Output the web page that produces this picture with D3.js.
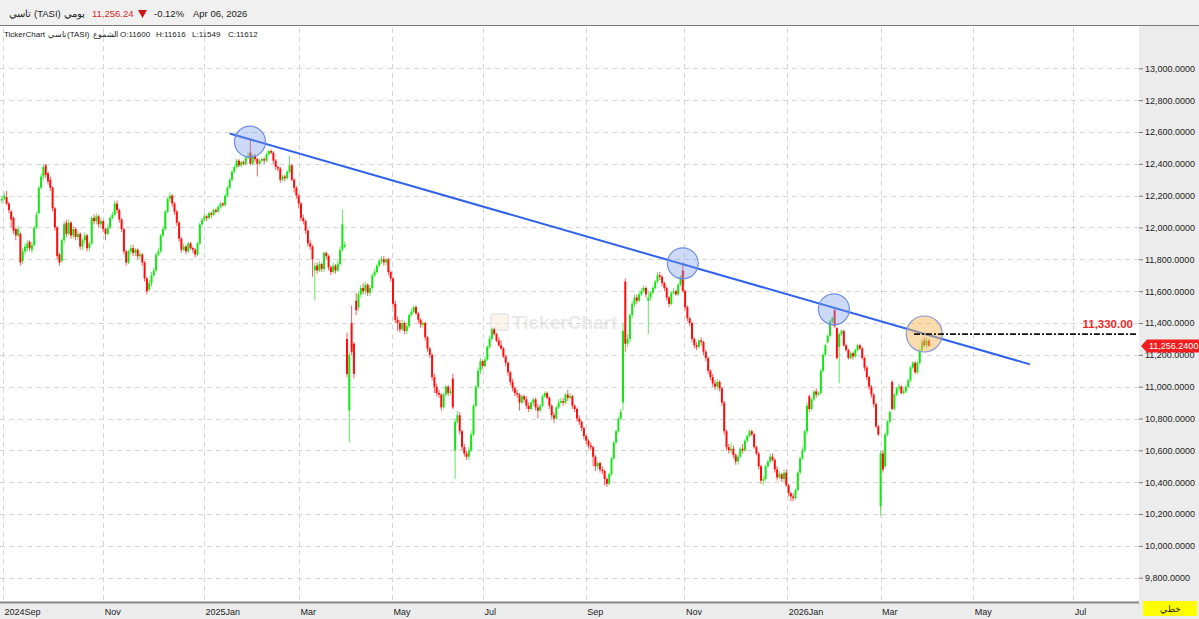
<!DOCTYPE html>
<html><head><meta charset="utf-8">
<script src="https://cdn.jsdelivr.net/npm/d3@7"></script>
<style>
body{margin:0;background:#fff;}
svg{display:block;font-family:"Liberation Sans",Arial,sans-serif;}
</style>
</head><body>
<svg id="chart" width="1199" height="619"></svg>
<script>
// ---- Daily candles, TASI (one entry per trading day) ----
const opens = [
12170,12180,12190,12150,12100,12060,11990,11950,11960,11790,
11850,11870,11910,11860,11890,12000,12090,12250,12320,12390,
12340,12300,12250,12120,12000,11830,11790,11920,12030,11960,
12030,11950,11990,11940,11960,11880,11920,11950,11870,11900,
12060,12040,12070,12020,12040,11990,11960,12000,12060,12080,
12150,12110,12050,11990,11850,11780,11850,11870,11840,11860,
11820,11830,11780,11680,11610,11650,11700,11730,11830,11850,
11950,11990,12100,12180,12200,12150,12100,12030,11930,11860,
11880,11850,11900,11870,11860,11830,11900,12020,12050,12070,
12060,12090,12080,12110,12100,12130,12150,12140,12200,12250,
12300,12350,12380,12420,12390,12410,12400,12440,12470,12400,
12450,12430,12400,12420,12430,12420,12460,12480,12470,12420,
12380,12370,12300,12320,12310,12350,12390,12300,12250,12200,
12150,12060,12040,11980,11900,11880,11730,11760,11730,11770,
11740,11840,11820,11750,11720,11760,11730,11770,11860,11880,
11300,10850,11400,11270,11540,11500,11580,11620,11600,11640,
11590,11620,11700,11720,11760,11790,11800,11780,11800,11720,
11680,11520,11420,11400,11360,11400,11350,11380,11450,11470,
11500,11460,11420,11390,11400,11310,11240,11200,11060,11000,
10960,10950,10870,10950,11000,10960,11050,10600,10780,10820,
10720,10620,10580,10560,10600,10700,10880,11000,11100,11160,
11130,11170,11250,11300,11360,11330,11290,11260,11240,11190,
11150,11090,11030,10990,10960,10950,10900,10940,10920,10880,
10860,10900,10920,10870,10850,10880,10940,10960,10930,10880,
10820,10800,10870,10900,10910,10900,10950,10930,10940,10880,
10860,10800,10780,10740,10690,10660,10630,10620,10560,10500,
10520,10480,10470,10420,10390,10450,10550,10650,10720,10800,
10900,11660,11270,11300,11450,11520,11560,11540,11580,11600,
11620,11540,11560,11590,11620,11660,11700,11690,11650,11620,
11560,11520,11590,11600,11580,11640,11730,11600,11500,11430,
11400,11300,11260,11250,11290,11280,11220,11180,11100,11060,
11020,11000,11030,10990,10900,10720,10620,10600,10610,10570,
10530,10560,10610,10600,10660,10690,10720,10700,10620,10580,
10500,10410,10420,10500,10530,10560,10540,10480,10430,10450,
10420,10460,10380,10330,10310,10300,10350,10460,10550,10600,
10720,10940,10860,10920,10970,10950,10960,11100,11200,11280,
11320,11410,11480,11370,11250,11330,11350,11260,11230,11180,
11210,11190,11230,11260,11240,11180,11120,11060,11000,10950,
10890,10750,10250,10580,10500,10700,10780,11030,10860,10950,
10990,11000,10960,10970,11000,11040,11120,11150,11090,11150,
11230,11290,11260,11290
];
const highs = [
12200,12220,12230,12160,12110,12070,12000,12010,11970,11870,
11900,11920,11920,11910,12010,12100,12260,12340,12400,12400,
12350,12320,12260,12130,12010,11840,11930,12040,12050,12050,
12040,12010,12000,11980,11970,11930,11970,11960,11910,12070,
12080,12090,12080,12060,12050,12000,12020,12070,12100,12170,
12170,12120,12060,12000,11860,11860,11890,11890,11870,11870,
11850,11840,11790,11690,11670,11720,11750,11840,11870,11960,
12010,12110,12190,12220,12210,12160,12110,12040,11940,11900,
11890,11910,11910,11880,11870,11910,12030,12060,12090,12080,
12100,12100,12120,12120,12140,12160,12160,12210,12260,12310,
12360,12390,12430,12430,12420,12420,12450,12470,12550,12460,
12460,12440,12430,12440,12440,12470,12490,12490,12480,12430,
12390,12380,12330,12330,12360,12450,12400,12310,12260,12210,
12160,12080,12050,11990,11920,11890,11780,11780,11790,11780,
11850,11850,11830,11760,11780,11770,11790,11880,12110,11910,
11340,11220,11510,11280,11590,11600,11640,11650,11660,11650,
11640,11710,11740,11770,11800,11820,11820,11810,11810,11730,
11690,11540,11440,11420,11420,11410,11400,11460,11490,11510,
11510,11470,11430,11410,11410,11320,11250,11210,11080,11020,
10980,10960,10960,11010,11010,10990,11080,10800,10850,10840,
10730,10640,10600,10620,10720,10890,11010,11120,11180,11170,
11190,11260,11320,11370,11370,11340,11310,11290,11250,11200,
11160,11100,11050,11000,10980,10960,10950,10950,10940,10900,
10910,10930,10930,10890,10890,10950,10970,10970,10940,10890,
10840,10880,10920,10930,10930,10960,10980,10960,10950,10890,
10870,10820,10790,10750,10700,10670,10650,10630,10570,10530,
10530,10500,10480,10430,10460,10560,10660,10730,10810,10860,
11400,11680,11330,11460,11540,11580,11580,11600,11620,11640,
11630,11600,11600,11630,11670,11720,11720,11700,11660,11630,
11570,11600,11620,11610,11650,11700,11780,11610,11510,11440,
11410,11310,11280,11300,11310,11290,11230,11190,11110,11080,
11040,11050,11040,11000,10910,10730,10640,10650,10630,10580,
10580,10620,10640,10670,10700,10730,10730,10710,10630,10590,
10510,10440,10510,10540,10580,10580,10550,10500,10470,10460,
10480,10480,10390,10340,10330,10360,10470,10560,10620,10730,
10900,10950,10930,10980,10990,10970,11110,11210,11270,11330,
11420,11440,11490,11370,11340,11360,11360,11270,11240,11220,
11220,11240,11270,11270,11250,11190,11130,11070,11010,10960,
10900,10760,10600,10600,10710,10790,10850,11040,10960,11000,
11020,11010,10990,11010,11050,11130,11160,11160,11160,11240,
11300,11310,11310,11300
];
const lows = [
12150,12170,12140,12090,12000,11960,11920,11940,11760,11770,
11830,11850,11850,11840,11880,11990,12080,12240,12300,12310,
12270,12230,12100,11980,11800,11760,11780,11900,11940,11950,
11930,11930,11920,11920,11860,11860,11900,11850,11850,11890,
12020,12020,12000,12000,11970,11920,11950,11990,12050,12070,
12090,12030,11970,11830,11760,11770,11830,11820,11820,11800,
11800,11760,11660,11580,11600,11630,11690,11720,11820,11840,
11940,11980,12090,12160,12130,12080,12010,11910,11840,11850,
11830,11840,11860,11840,11810,11820,11890,12010,12040,12040,
12050,12060,12070,12090,12090,12120,12130,12130,12190,12240,
12290,12340,12370,12380,12380,12390,12390,12430,12390,12390,
12410,12320,12390,12410,12400,12410,12450,12460,12400,12360,
12350,12280,12290,12290,12300,12340,12290,12220,12180,12120,
12040,12020,11960,11880,11860,11690,11545,11710,11720,11720,
11720,11800,11730,11700,11710,11710,11720,11760,11850,11870,
11060,10650,11200,11050,11450,11480,11560,11580,11580,11570,
11570,11610,11690,11710,11750,11770,11760,11760,11700,11660,
11500,11400,11350,11340,11350,11330,11330,11370,11440,11460,
11450,11400,11370,11370,11290,11220,11180,11040,10960,10940,
10930,10850,10860,10940,10940,10950,10860,10420,10770,10700,
10600,10560,10540,10540,10590,10690,10870,10990,11080,11110,
11120,11160,11240,11290,11320,11280,11250,11230,11180,11130,
11070,11010,10970,10940,10930,10850,10890,10900,10860,10840,
10850,10880,10850,10800,10840,10870,10930,10920,10860,10800,
10770,10790,10860,10890,10880,10890,10910,10920,10860,10840,
10780,10760,10720,10670,10640,10610,10600,10500,10470,10480,
10460,10450,10380,10370,10380,10440,10540,10640,10710,10790,
10850,11220,11250,11280,11430,11500,11520,11530,11570,11590,
11560,11330,11540,11580,11610,11650,11670,11630,11600,11540,
11500,11510,11580,11570,11570,11630,11590,11480,11410,11380,
11280,11240,11230,11240,11260,11200,11160,11080,11040,11000,
10980,10980,10970,10880,10700,10600,10580,10580,10550,10510,
10510,10550,10580,10590,10650,10680,10690,10610,10570,10480,
10390,10380,10410,10490,10520,10530,10460,10410,10420,10400,
10400,10370,10310,10280,10280,10290,10340,10450,10540,10590,
10700,10840,10850,10910,10930,10940,10950,11090,11190,11270,
11310,11400,11370,11170,11020,11320,11250,11220,11170,11170,
11170,11180,11220,11230,11170,11100,11040,10980,10930,10870,
10740,10690,10190,10460,10490,10690,10770,10850,10850,10940,
10970,10950,10950,10960,10990,11030,11110,11080,11080,11140,
11220,11250,11240,11250
];
const closes = [
12180,12200,12150,12110,12050,11980,11950,11990,11780,11850,
11880,11900,11870,11890,12000,12080,12250,12320,12380,12330,
12290,12250,12120,12000,11820,11780,11920,12020,11960,12030,
11950,11990,11940,11960,11880,11920,11950,11870,11900,12060,
12040,12070,12020,12040,11990,11960,12000,12060,12080,12150,
12110,12050,11990,11850,11780,11850,11870,11840,11860,11820,
11830,11780,11680,11600,11650,11700,11730,11830,11850,11950,
11990,12100,12180,12200,12150,12100,12030,11930,11860,11880,
11850,11900,11870,11860,11830,11900,12020,12050,12070,12060,
12090,12080,12110,12100,12130,12150,12140,12200,12250,12300,
12350,12380,12420,12390,12410,12400,12440,12450,12400,12450,
12430,12400,12420,12430,12420,12460,12480,12470,12420,12380,
12370,12300,12320,12310,12350,12390,12300,12250,12200,12150,
12060,12040,11980,11900,11880,11800,11760,11730,11770,11740,
11840,11820,11750,11720,11760,11730,11770,11860,12020,11890,
11080,11200,11220,11080,11480,11580,11620,11600,11640,11590,
11620,11700,11720,11760,11790,11800,11780,11800,11720,11680,
11520,11420,11400,11360,11400,11350,11380,11450,11470,11500,
11460,11420,11390,11400,11310,11240,11200,11060,11000,10960,
10950,10870,10950,11000,10960,10970,10870,10780,10820,10720,
10620,10580,10560,10600,10700,10880,11000,11100,11160,11130,
11170,11250,11300,11360,11330,11290,11260,11240,11190,11150,
11090,11030,10990,10960,10950,10900,10940,10920,10880,10860,
10900,10920,10870,10850,10880,10940,10960,10930,10880,10820,
10800,10870,10900,10910,10900,10950,10930,10940,10880,10860,
10800,10780,10740,10690,10660,10630,10620,10560,10500,10520,
10480,10470,10420,10390,10450,10550,10650,10720,10800,10840,
11350,11270,11300,11450,11520,11560,11540,11580,11600,11620,
11580,11560,11590,11620,11660,11700,11690,11650,11620,11560,
11520,11590,11600,11580,11640,11690,11600,11500,11430,11400,
11300,11260,11250,11290,11280,11220,11180,11100,11060,11020,
11000,11030,10990,10900,10720,10620,10600,10610,10570,10530,
10560,10610,10600,10660,10690,10720,10700,10620,10580,10500,
10410,10420,10500,10530,10560,10540,10480,10430,10450,10420,
10460,10380,10330,10310,10300,10350,10460,10550,10600,10720,
10880,10860,10920,10970,10950,10960,11100,11200,11260,11320,
11410,11430,11380,11180,11330,11350,11260,11230,11180,11210,
11190,11230,11260,11240,11180,11120,11060,11000,10950,10890,
10750,10700,10580,10480,10700,10780,10840,10860,10950,10990,
11000,10960,10970,11000,11040,11120,11150,11090,11150,11230,
11280,11260,11290,11256.24
];

// ---- Axis data ----
const monthLabels = ["2024Sep","Nov","2025Jan","Mar","May","Jul","Sep","Nov","2026Jan","Mar","May","Jul"];
const monthStartIndex = [0.4, 44, 87.8, 129.1, 169.6, 209.1, 253.8, 296.7, 341.4, 382, 422.3, 465.8];
const priceTicks = [9800,10000,10200,10400,10600,10800,11000,11200,11400,11600,11800,12000,12200,12400,12600,12800,13000];

// ---- Header values ----
const lastCandleInfo = ["O:11600","H:11616","L:11549","C:11612"];

// ---- Annotations (index, price) ----
const trendLine = [[99, 12590], [447, 11140]];
const touchPoints = [[107.8, 12539], [296, 11775], [361.7, 11486]];
const currentTouch = [401, 11331];
const resistanceLevel = 11330;
const resistanceFrom = 396.5;
const lastPrice = 11256.24;

// ---- Layout ----
const W = 1199, H = 619;
const plotLeft = 0, plotRight = 1139, plotTop = 28, plotBottom = 601;
const svg = d3.select("#chart");

const x = d3.scaleLinear().domain([0, 403]).range([2, 928.9]);
const y = d3.scaleLinear().domain([9800, 13000]).range([577.7, 68.3]);

// backgrounds
svg.append("rect").attr("x",0).attr("y",0).attr("width",W).attr("height",H).attr("fill","#fff");
svg.append("rect").attr("x",0).attr("y",0).attr("width",W).attr("height",25).attr("fill","#f0f0f0");
svg.append("line").attr("x1",0).attr("x2",W).attr("y1",25.5).attr("y2",25.5).attr("stroke","#7a7a7a").attr("stroke-width",1);
svg.append("rect").attr("x",plotRight).attr("y",26).attr("width",W-plotRight).attr("height",H-26).attr("fill","#ececec");
svg.append("rect").attr("x",0).attr("y",plotBottom).attr("width",W).attr("height",H-plotBottom).attr("fill","#ececec");

// header
const hdr = svg.append("g").attr("font-size","9.5px").attr("fill","#222");
hdr.append("text").attr("x",9).attr("y",17).text("تاسي");
hdr.append("text").attr("x",34).attr("y",17).text("(TASI)");
hdr.append("text").attr("x",64).attr("y",17).text("يومي");
hdr.append("text").attr("x",92).attr("y",17).attr("fill","#d42a2a").text(d3.format(",.2f")(lastPrice));
hdr.append("path").attr("d","M138,10 L147,10 L142.5,18 Z").attr("fill","#c81414");
hdr.append("text").attr("x",154).attr("y",17).text("-0.12%");
hdr.append("text").attr("x",193).attr("y",17).text("Apr 06, 2026");

const sub = svg.append("g").attr("font-size","8px").attr("fill","#222");
sub.append("text").attr("x",4).attr("y",37).text("TickerChart");
sub.append("text").attr("x",48).attr("y",37).text("تاسي");
sub.append("text").attr("x",67).attr("y",37).text("(TASI)");
sub.append("text").attr("x",93).attr("y",37).text("الشموع");
sub.selectAll("text.ohlc").data(lastCandleInfo).join("text").attr("class","ohlc")
  .attr("x",(d,i)=>120 + i*36).attr("y",37).text(d=>d);

// grid
const grid = svg.append("g").attr("stroke","#d6d6d6").attr("stroke-dasharray","5,4").attr("stroke-width",1);
grid.selectAll("line.h").data(priceTicks).join("line").attr("class","h")
  .attr("x1",plotLeft).attr("x2",plotRight)
  .attr("y1",d=>Math.round(y(d))+0.5).attr("y2",d=>Math.round(y(d))+0.5);
grid.selectAll("line.v").data(monthStartIndex).join("line").attr("class","v")
  .attr("x1",d=>Math.round(x(d))+0.5).attr("x2",d=>Math.round(x(d))+0.5)
  .attr("y1",plotTop).attr("y2",plotBottom);

// watermark
const wm = svg.append("g").attr("opacity",0.5);
wm.append("rect").attr("x",491).attr("y",314).attr("width",17).attr("height",16).attr("rx",2)
  .attr("fill","#f6ead6").attr("stroke","#d8d8d8").attr("stroke-width",2);
wm.append("text").attr("x",512).attr("y",329).attr("font-size","19px").attr("font-weight","bold")
  .attr("fill","#d4d4d4").text("TickerChart");

// candles
const idx = d3.range(closes.length);
const up = i => closes[i] >= opens[i];
const colorOf = i => up(i) ? "#16e516" : "#ff0d0d";
const cg = svg.append("g");
cg.selectAll("line.w").data(idx).join("line").attr("class","w")
  .attr("x1",i=>x(i)).attr("x2",i=>x(i))
  .attr("y1",i=>y(highs[i])).attr("y2",i=>y(lows[i]))
  .attr("stroke",i=>up(i)?"#5ee85e":"#ff5a5a").attr("stroke-width",1);
cg.selectAll("rect.b").data(idx).join("rect").attr("class","b")
  .attr("x",i=>x(i)-1).attr("width",2)
  .attr("y",i=>y(Math.max(opens[i],closes[i])))
  .attr("height",i=>Math.max(1, Math.abs(y(opens[i])-y(closes[i]))))
  .attr("fill",colorOf);

// trend line
svg.append("line")
  .attr("x1",x(trendLine[0][0])).attr("y1",y(trendLine[0][1]))
  .attr("x2",x(trendLine[1][0])).attr("y2",y(trendLine[1][1]))
  .attr("stroke","#2f62ee").attr("stroke-width",2);

// touch circles
svg.selectAll("circle.t").data(touchPoints).join("circle").attr("class","t")
  .attr("cx",d=>x(d[0])).attr("cy",d=>y(d[1])).attr("r",15.5)
  .attr("fill","rgba(120,155,235,0.38)").attr("stroke","#6e8fe6").attr("stroke-width",1.2);
svg.append("circle").attr("cx",x(currentTouch[0])).attr("cy",y(currentTouch[1])).attr("r",18)
  .attr("fill","rgba(245,185,90,0.5)").attr("stroke","#8d9ad8").attr("stroke-width",1.2);

// resistance level
svg.append("line").attr("x1",x(resistanceFrom)).attr("x2",plotRight-2)
  .attr("y1",y(resistanceLevel)).attr("y2",y(resistanceLevel))
  .attr("stroke","#111").attr("stroke-width",1.6).attr("stroke-dasharray","6,2,2,2");
svg.append("text").attr("x",1133).attr("y",y(resistanceLevel)-6).attr("text-anchor","end")
  .attr("font-size","11.5px").attr("font-weight","bold").attr("fill","#f02828")
  .text(d3.format(",.2f")(resistanceLevel));

// y axis
const yAxis = svg.append("g").attr("transform",`translate(${plotRight},0)`)
  .call(d3.axisRight(y).tickValues(priceTicks).tickFormat(d3.format(",.4f")).tickSize(4).tickPadding(2));
yAxis.select(".domain").remove();
yAxis.selectAll(".tick line").attr("stroke","#7a7a7a");
yAxis.selectAll(".tick text").attr("font-size","9px").attr("fill","#222")
  .attr("font-family","'Liberation Sans',Arial,sans-serif");

// last price tag
const ly = y(lastPrice);
svg.append("path").attr("d",`M${plotRight+2},${ly} L${plotRight+8},${ly-6.5} L${W},${ly-6.5} L${W},${ly+6.5} L${plotRight+8},${ly+6.5} Z`)
  .attr("fill","#f01e1e");
svg.append("text").attr("x",1149).attr("y",ly+3.5).attr("font-size","9px").attr("fill","#fff")
  .text(d3.format(",.4f")(lastPrice));

// x axis
svg.append("line").attr("x1",0).attr("x2",plotRight).attr("y1",602.5).attr("y2",602.5)
  .attr("stroke","#8a8a8a").attr("stroke-width",2);
const xAxis = svg.append("g").attr("transform",`translate(0,${plotBottom})`)
  .call(d3.axisBottom(x).tickValues(monthStartIndex).tickFormat((d,i)=>monthLabels[i]).tickSize(0).tickPadding(8));
xAxis.select(".domain").remove();
xAxis.selectAll(".tick text").attr("text-anchor","start").attr("dx","1").attr("font-size","9px")
  .attr("fill","#222").attr("font-family","'Liberation Sans',Arial,sans-serif");

// scale mode box
svg.append("rect").attr("x",1143).attr("y",601).attr("width",54).attr("height",15).attr("fill","#ffff00");
svg.append("text").attr("x",1170).attr("y",612).attr("text-anchor","middle").attr("font-size","8.5px")
  .attr("fill","#222").text("خطي");
</script>
</body></html>
